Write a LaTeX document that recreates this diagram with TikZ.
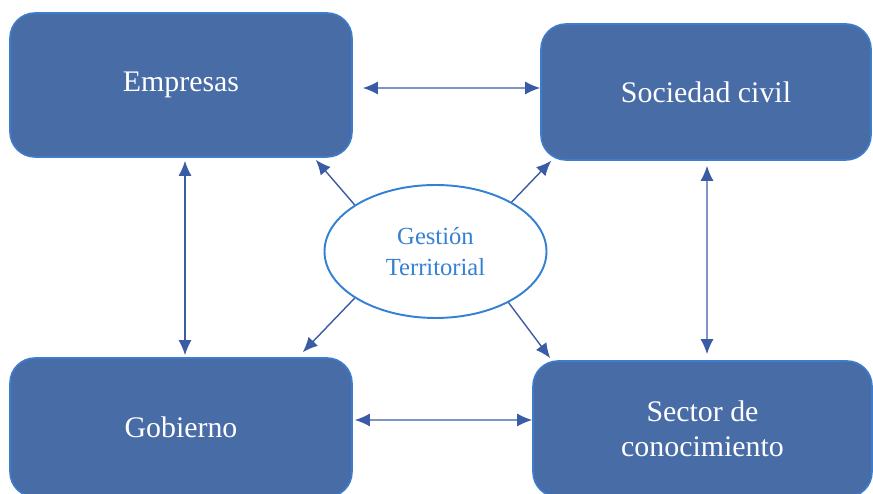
\documentclass[tikz,border=0pt]{standalone}
\usepackage{fontspec}
\setmainfont{Liberation Serif}
\usetikzlibrary{arrows.meta,shapes.geometric}

\definecolor{boxfill}{RGB}{72,108,166}
\definecolor{boxline}{RGB}{62,125,205}
\definecolor{ringblue}{RGB}{52,128,212}
\definecolor{arrowblue}{RGB}{58,92,166}

\begin{document}
\begin{tikzpicture}[
  actor/.style={draw=boxline, line width=0.9pt, fill=boxfill, rounded corners=0.5cm,
    text=white, font=\fontsize{17}{20}\selectfont, align=center, inner sep=0pt},
  centre/.style={ellipse, draw=ringblue, line width=1.1pt, text=ringblue, align=center,
    font=\fontsize{14}{18}\selectfont, inner sep=0pt, minimum width=4.44cm, minimum height=2.66cm},
  link/.style={arrowblue, line width=0.8pt, >={Latex[length=3mm,width=2.6mm]}}
]

\useasboundingbox (0,0) rectangle (17.46,9.88);
\clip (0,0) rectangle (17.46,9.88);

\node [actor, minimum width=6.84cm, minimum height=2.88cm] (empresas) at (3.62,8.18) {Empresas};
\node [actor, minimum width=6.6cm, minimum height=2.72cm] (sociedad) at (14.12,8.04) {Sociedad civil};
\node [actor, minimum width=6.84cm, minimum height=2.78cm] (gobierno) at (3.62,1.33) {Gobierno};
\node [actor, minimum width=6.78cm, minimum height=2.72cm] (sector) at (14.05,1.30) {Sector de\\conocimiento};

\node [centre] (gestion) at (8.71,4.85) {Gestión\\Territorial};

% enlaces entre actores
\draw [link,<->] ([xshift=2mm,yshift=-0.6mm]empresas.east) -- ([yshift=0.8mm]sociedad.west);
\draw [link,<->] ([xshift=0.8mm,yshift=-0.6mm]empresas.south) -- ([xshift=0.8mm,yshift=0.4mm]gobierno.north);
\draw [link,<->] ([xshift=0.2mm,yshift=-1mm]sociedad.south) -- ([xshift=0.9mm,yshift=1.2mm]sector.north);
\draw [link,<->] ([xshift=0.4mm,yshift=1.5mm]gobierno.east) -- ([yshift=1.8mm]sector.west);

% desde el centro
\draw [link,->] (gestion.150) -- ([xshift=-7.4mm,yshift=-0.4mm]empresas.south east);
\draw [link,->] (gestion.33) -- ([xshift=2.2mm]sociedad.south west);
\draw [link,->] (gestion.210) -- ([xshift=-10mm,yshift=1mm]gobierno.north east);
\draw [link,->] (gestion.325) -- ([xshift=3.6mm,yshift=0.4mm]sector.north west);

\end{tikzpicture}
\end{document}
